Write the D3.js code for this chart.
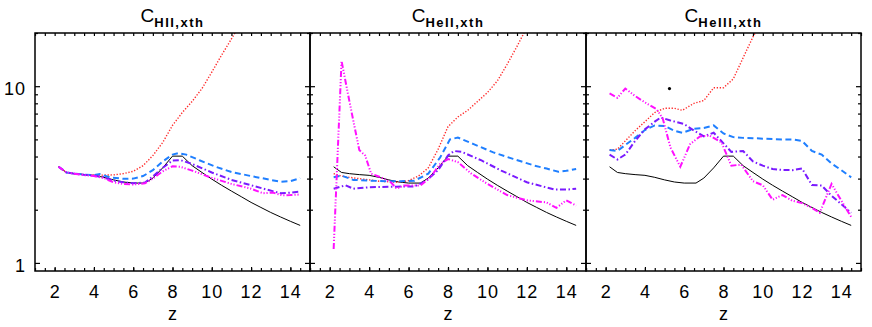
<!DOCTYPE html>
<html>
<head>
<meta charset="utf-8">
<script src="https://cdn.jsdelivr.net/npm/d3@7"></script>
<style>
  body { margin: 0; background: #fff; }
  svg { display: block; }
  text { font-family: "Liberation Sans", Arial, sans-serif; fill: #000; }
</style>
</head>
<body>
<div id="chart"></div>
<script>
// panel titles
const panelNames = ["HII,xth", "HeII,xth", "HeIII,xth"];

// tick values
const xMajor = [2, 4, 6, 8, 10, 12, 14];
const xMinor = d3.range(1, 15.01, 0.5);
const yMajor = [1, 10];
const yMinor = [2, 3, 4, 5, 6, 7, 8, 9, 20];

// black solid reference curve (same in every panel), [z, C]
const blackLine = [[2.2,3.5],[2.6,3.25],[3.0,3.2],[3.5,3.16],[4.0,3.13],[4.5,3.05],[5.0,2.95],[5.5,2.87],[6.0,2.83],[6.6,2.83],[7.0,3.02],[7.5,3.45],[8.0,4.02],[8.5,4.02],[9.0,3.55],[9.5,3.25],[10.0,2.98],[10.5,2.75],[11.0,2.55],[11.5,2.37],[12.0,2.2],[12.5,2.06],[13.0,1.93],[13.5,1.82],[14.0,1.72],[14.5,1.63]];

// panel 1: C_HII,xth
const hiiRed = [[2.2,3.5],[2.6,3.25],[3.0,3.2],[3.5,3.16],[4.0,3.14],[4.5,3.14],[5.0,3.15],[5.5,3.2],[6.0,3.3],[6.5,3.55],[7.0,4.05],[7.5,4.8],[8.0,6.0],[8.5,7.1],[9.0,8.2],[9.5,9.7],[10.0,12.0],[10.5,15.0],[11.0,18.5],[11.5,23]];
const hiiBlue = [[2.2,3.5],[2.6,3.25],[3.0,3.2],[3.5,3.16],[4.0,3.14],[4.3,3.18],[4.8,3.05],[5.5,2.99],[6.0,3.0],[6.5,3.1],[7.0,3.35],[7.5,3.75],[8.0,4.1],[8.3,4.18],[8.7,4.1],[9.4,3.8],[10.2,3.5],[11.0,3.27],[12.0,3.1],[13.0,2.95],[13.5,2.88],[14.0,2.9],[14.5,3.02]];
const hiiPurple = [[2.2,3.5],[2.6,3.25],[3.0,3.2],[3.5,3.15],[4.0,3.12],[4.5,3.05],[5.0,2.92],[5.5,2.86],[6.0,2.82],[6.6,2.85],[7.0,3.08],[7.5,3.45],[8.0,3.8],[8.4,3.82],[9.0,3.63],[10.0,3.25],[11.0,2.95],[12.0,2.75],[12.8,2.6],[13.5,2.48],[14.0,2.5],[14.5,2.53]];
const hiiMagenta = [[2.2,3.5],[2.6,3.25],[3.0,3.2],[3.5,3.14],[4.0,3.1],[4.5,3.02],[5.0,2.86],[5.5,2.8],[6.0,2.78],[6.6,2.82],[7.0,3.0],[7.5,3.3],[8.0,3.52],[8.4,3.5],[9.0,3.33],[10.0,3.03],[11.0,2.8],[12.0,2.63],[12.6,2.48],[13.1,2.5],[13.6,2.41],[14.0,2.42],[14.5,2.44]];

// panel 2: C_HeII,xth
const heiiRed = [[2.2,3.2],[2.6,3.1],[3.0,3.05],[3.5,3.0],[4.0,2.95],[4.5,2.9],[5.0,2.88],[5.5,2.86],[6.0,2.92],[6.5,3.1],[7.0,3.45],[7.5,4.4],[8.0,5.9],[8.5,6.7],[9.0,7.3],[9.5,8.2],[10.0,9.2],[10.5,10.7],[11.0,13.3],[11.5,16.8],[12.0,21.5]];
const heiiBlue = [[2.2,3.05],[2.6,3.12],[3.2,2.95],[4.0,2.92],[5.0,2.9],[5.6,2.9],[6.3,2.92],[7.0,3.2],[7.6,3.95],[8.1,5.0],[8.5,5.12],[9.3,4.7],[10.3,4.22],[11.3,3.88],[12.4,3.55],[13.0,3.42],[13.6,3.28],[14.0,3.32],[14.5,3.4]];
const heiiPurple = [[2.2,2.63],[2.8,2.75],[3.2,2.63],[4.0,2.68],[5.4,2.7],[6.3,2.71],[6.9,2.92],[7.5,3.35],[8.0,4.05],[8.3,4.3],[8.7,4.25],[9.7,3.8],[10.7,3.33],[12.0,2.86],[13.4,2.6],[14.0,2.6],[14.5,2.63]];
const heiiMagenta = [[2.2,1.2],[2.6,13.9],[3.0,8.2],[3.5,4.35],[3.8,4.05],[4.1,3.2],[4.6,3.05],[5.1,2.86],[5.4,2.63],[5.75,2.74],[6.6,2.74],[7.1,3.05],[7.6,3.63],[8.0,3.87],[8.5,3.72],[9.2,3.19],[10.0,2.8],[11.0,2.42],[12.0,2.26],[13.0,2.2],[13.5,2.05],[14.0,2.26],[14.5,2.11]];

// panel 3: C_HeIII,xth
const heiiiRed = [[2.2,4.35],[2.6,4.4],[3.0,4.9],[3.5,5.6],[4.0,6.3],[4.5,7.1],[5.0,7.5],[5.5,7.5],[5.9,7.3],[6.5,8.0],[7.0,8.3],[7.5,9.8],[8.0,9.8],[8.5,11.0],[9.0,14.5],[9.5,19],[10.0,24]];
const heiiiBlue = [[2.2,4.35],[2.6,4.3],[3.0,4.65],[3.5,5.1],[4.0,5.65],[4.5,6.0],[5.0,5.95],[5.5,5.6],[5.9,5.45],[6.5,5.75],[7.0,5.8],[7.5,6.0],[8.0,5.4],[8.5,5.15],[9.0,5.1],[9.5,5.08],[10.0,5.05],[10.5,5.02],[11.0,5.0],[11.5,5.0],[12.0,4.9],[12.5,4.3],[13.0,4.1],[13.5,3.65],[14.0,3.35],[14.5,3.05]];
const heiiiPurple = [[2.2,4.1],[2.6,3.85],[3.0,4.1],[3.5,4.9],[4.0,5.7],[4.5,6.3],[4.8,6.65],[5.3,6.4],[6.0,6.1],[6.5,5.6],[7.0,5.2],[7.5,5.45],[8.0,4.75],[8.4,4.25],[9.0,4.3],[9.5,3.75],[10.0,3.55],[10.5,3.4],[11.0,3.36],[11.5,3.35],[12.0,3.42],[12.5,2.76],[13.0,2.74],[13.5,2.4],[14.0,2.15],[14.5,1.92]];
const heiiiMagenta = [[2.2,9.1],[2.6,8.6],[3.0,9.7],[3.5,8.8],[4.0,8.1],[4.6,7.4],[4.9,6.6],[5.3,4.5],[5.8,3.5],[6.3,4.7],[6.8,5.2],[7.3,5.25],[7.9,4.8],[8.4,3.55],[8.9,3.6],[9.5,2.9],[10.0,2.75],[10.5,2.28],[11.0,2.42],[11.5,2.25],[12.0,2.18],[12.5,2.05],[12.9,1.92],[13.5,2.8],[14.0,2.25],[14.5,1.82]];
const heiiiDot = [[5.25, 9.7]];

const panels = [
    { name: panelNames[0], red: hiiRed, blue: hiiBlue, purple: hiiPurple, magenta: hiiMagenta, dots: [] },
    { name: panelNames[1], red: heiiRed, blue: heiiBlue, purple: heiiPurple, magenta: heiiMagenta, dots: [] },
    { name: panelNames[2], red: heiiiRed, blue: heiiiBlue, purple: heiiiPurple, magenta: heiiiMagenta, dots: heiiiDot }
];

const width = 872, height = 327;
const panelLeft = [35, 310, 586];
const panelRight = [310, 586, 861];
const plotTop = 33, plotBottom = 271;

const svg = d3.select("#chart").append("svg")
    .attr("width", width)
    .attr("height", height);

const y = d3.scaleLog().domain([0.9, 20]).range([plotBottom, plotTop]);

// line styles
const styles = [
    { key: "red", color: "#ff2a2a", width: 1.4, dash: "1.3,1.7" },
    { key: "blue", color: "#1f7fff", width: 2, dash: "6,3.5" },
    { key: "purple", color: "#7a1aff", width: 2, dash: "6,2.5,1.5,2.5" },
    { key: "magenta", color: "#ff10ff", width: 2, dash: "6,2,1.2,1.8,1.2,1.8,1.2,2" }
];

panels.forEach((p, i) => {
    const x = d3.scaleLinear().domain([1, 15]).range([panelLeft[i], panelRight[i]]);
    const g = svg.append("g");

    g.append("clipPath").attr("id", "clip" + i)
        .append("rect")
        .attr("x", panelLeft[i]).attr("y", plotTop)
        .attr("width", panelRight[i] - panelLeft[i]).attr("height", plotBottom - plotTop);

    const line = d3.line().x(d => x(d[0])).y(d => y(d[1]));
    const plot = g.append("g").attr("clip-path", `url(#clip${i})`);

    plot.append("path")
        .datum(blackLine)
        .attr("d", line)
        .attr("fill", "none")
        .attr("stroke", "#000")
        .attr("stroke-width", 1);

    styles.forEach(s => {
        plot.append("path")
            .datum(p[s.key])
            .attr("d", line)
            .attr("fill", "none")
            .attr("stroke", s.color)
            .attr("stroke-width", s.width)
            .attr("stroke-dasharray", s.dash);
    });

    plot.selectAll("circle.dot").data(p.dots).join("circle")
        .attr("class", "dot")
        .attr("cx", d => x(d[0]))
        .attr("cy", d => y(d[1]))
        .attr("r", 1.6)
        .attr("fill", "#000");

    // inward ticks on all four sides
    const tickStyle = sel => {
        sel.select(".domain").remove();
        sel.selectAll("line").attr("stroke", "#000").attr("stroke-width", 1.2);
    };
    g.append("g").attr("transform", `translate(0,${plotBottom})`)
        .call(d3.axisBottom(x).tickValues(xMinor).tickSize(-3).tickFormat(""))
        .call(tickStyle);
    g.append("g").attr("transform", `translate(0,${plotTop})`)
        .call(d3.axisTop(x).tickValues(xMinor).tickSize(-3).tickFormat(""))
        .call(tickStyle);

    const xLab = g.append("g").attr("transform", `translate(0,${plotBottom})`)
        .call(d3.axisBottom(x).tickValues(xMajor).tickSize(-4).tickPadding(14))
        .call(tickStyle);
    xLab.selectAll("text")
        .attr("font-size", 18)
        .attr("letter-spacing", 1)
        .attr("dy", "0.71em")
        .attr("font-family", "'Liberation Sans', Arial, sans-serif");

    [[d3.axisLeft, panelLeft[i]], [d3.axisRight, panelRight[i]]].forEach(([ax, px]) => {
        g.append("g").attr("transform", `translate(${px},0)`)
            .call(ax(y).tickValues(yMinor).tickSize(-3).tickFormat(""))
            .call(tickStyle);
        g.append("g").attr("transform", `translate(${px},0)`)
            .call(ax(y).tickValues(yMajor).tickSize(-5).tickFormat(""))
            .call(tickStyle);
    });

    if (i === 0) {
        g.selectAll("text.ylab").data(yMajor).join("text")
            .attr("class", "ylab")
            .attr("x", panelLeft[i] - 9)
            .attr("y", d => y(d) + 9)
            .attr("text-anchor", "end")
            .attr("font-size", 18)
            .attr("letter-spacing", 1)
            .text(d => d);
    }

    // frame
    g.append("rect")
        .attr("x", panelLeft[i]).attr("y", plotTop)
        .attr("width", panelRight[i] - panelLeft[i]).attr("height", plotBottom - plotTop)
        .attr("fill", "none")
        .attr("stroke", "#000")
        .attr("stroke-width", 1.5);

    // title
    const cx = (panelLeft[i] + panelRight[i]) / 2;
    const title = g.append("text")
        .attr("x", cx)
        .attr("y", 22)
        .attr("text-anchor", "middle");
    title.append("tspan").attr("font-size", 19).text("C");
    title.append("tspan").attr("font-size", 13).attr("font-weight", "bold")
        .attr("letter-spacing", 1.5).attr("dy", 5).text(p.name);

    // x axis label
    g.append("text")
        .attr("x", cx)
        .attr("y", 320)
        .attr("text-anchor", "middle")
        .attr("font-size", 18)
        .text("z");
});
</script>
</body>
</html>
